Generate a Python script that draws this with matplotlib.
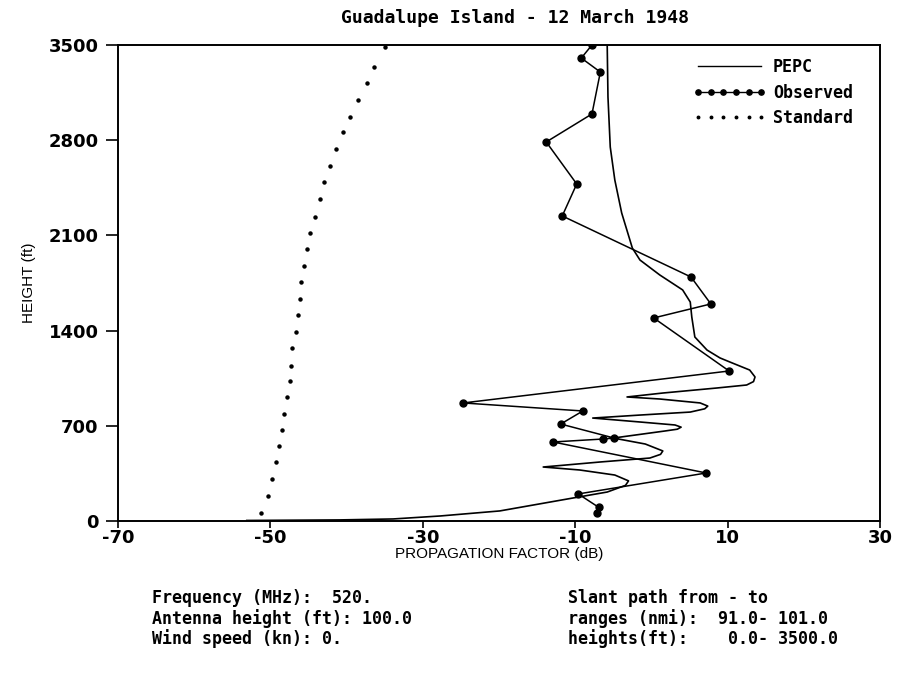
import numpy as np
import matplotlib
matplotlib.use("Agg")
from matplotlib import pyplot as plt
from matplotlib.lines import Line2D

# PEPC curve (dB, ft)
pepc_db = [-5.8, -5.7, -5.4, -4.8, -3.9, -2.5, -1.5, 1.1, 4.1, 5.1, 5.3, 5.7, 7.3, 9.0,
           10.3, 12.9, 13.6, 13.4, 12.5, 8.6, 1.5, -3.2, 1.1, 6.4, 7.4, 7.0, 5.1, -1.5, -7.7,
           -1.5, 3.1, 3.9, 3.4, 1.8, -5.0, -0.8, 1.5, 1.2, -0.2, -6.7, -14.2, -9.4, -4.8,
           -3.0, -3.4, -5.8, -10.3, -19.9, -27.7, -33.9, -40.9, -53.1]
pepc_ft = [3500, 3118, 2750, 2507, 2265, 2007, 1919, 1809, 1699, 1610, 1500, 1353, 1257, 1199,
           1169, 1110, 1059, 1025, 1000, 978, 941, 912, 897, 868, 845, 825, 801, 779, 757,
           728, 706, 690, 675, 662, 610, 566, 515, 490, 463, 434, 397, 375, 338,
           295, 262, 213, 169, 74, 37, 15, 8, 4]

# observed points
obs_db = [-7.8, -9.2, -6.7, -7.8, -13.8, -9.8, -11.7, 5.2, 7.8, 0.3, 10.2, -24.7, -9.0,
          -11.9, -4.9, -6.3, -12.9, 7.2, -9.6, -6.9, -7.2]
obs_ft = [3500, 3404, 3301, 2993, 2787, 2478, 2243, 1794, 1596, 1493, 1103, 868, 809,
          713, 610, 603, 581, 353, 199, 100, 60]

# standard atmosphere curve
std_db = [-35.0, -36.4, -37.3, -38.5, -39.6, -40.5, -41.4, -42.2, -43.0, -43.5, -44.1,
          -44.8, -45.2, -45.6, -46.0, -46.1, -46.4, -46.6, -47.2, -47.3, -47.4, -47.8,
          -48.2, -48.5, -48.9, -49.3, -49.8, -50.3, -51.2]
std_ft = [3485, 3338, 3221, 3096, 2971, 2860, 2735, 2610, 2493, 2368, 2235, 2118, 2000,
          1875, 1757, 1632, 1515, 1390, 1272, 1140, 1029, 912, 787, 669, 551, 434, 309,
          184, 59]

xticks = [-70, -50, -30, -10, 10, 30]
yticks = [0, 700, 1400, 2100, 2800, 3500]

left_info = ["Frequency (MHz):  520.", "Antenna height (ft): 100.0", "Wind speed (kn): 0."]
right_info = ["Slant path from - to", "ranges (nmi):  91.0- 101.0", "heights(ft):    0.0- 3500.0"]

dos = "DejaVu Sans Mono"

fig = plt.figure(figsize=(8.99, 6.8), dpi=100)
ax = fig.add_axes([118 / 899, 159 / 680, 762 / 899, 476 / 680])

ax.plot(pepc_db, pepc_ft, color="black", lw=1.2, label="PEPC")
ax.plot(obs_db, obs_ft, color="black", lw=1.1, marker="o", ms=5, label="Observed")
ax.plot(std_db, std_ft, color="black", ls="none", marker="o", ms=2.2, label="Standard")

ax.set_xlim(-70, 30)
ax.set_ylim(0, 3500)
ax.set_xticks(xticks)
ax.set_yticks(yticks)
ax.set_xticklabels([str(v) for v in xticks], fontfamily="DejaVu Sans", fontweight="bold", fontsize=13)
ax.set_yticklabels([str(v) for v in yticks], fontfamily="DejaVu Sans", fontweight="bold", fontsize=13)
ax.tick_params(axis="y", direction="out", length=9, width=1.2, pad=5)
ax.tick_params(axis="x", direction="out", length=5, width=1.2, pad=1)
for s in ax.spines.values():
    s.set_linewidth(1.4)

ax.set_xlabel("PROPAGATION FACTOR (dB)", fontfamily="Liberation Sans", fontsize=11, labelpad=0)
ax.set_ylabel("HEIGHT (ft)", fontfamily="Liberation Sans", fontsize=11, labelpad=9)

fig.text(515 / 899, 1 - 18 / 680, "Guadalupe Island - 12 March 1948", ha="center", va="center",
         fontfamily=dos, fontweight="bold", fontsize=13)

handles = [Line2D([], [], color="black", lw=1.0),
           Line2D([], [], color="black", lw=1.0, marker="o", ms=3.8),
           Line2D([], [], color="black", ls="none", marker="o", ms=1.8)]
leg = ax.legend(handles, ["PEPC", "Observed", "Standard"], loc="upper left",
                bbox_to_anchor=((693 - 118) / 762, (521 - 58) / 476), frameon=False,
                numpoints=6, handlelength=4.4, handletextpad=0.4, labelspacing=0.45,
                borderpad=0, borderaxespad=0,
                prop={"family": dos, "weight": "bold", "size": 12})

for i, (a, b) in enumerate(zip(left_info, right_info)):
    y = 1 - (598 + i * 20.5) / 680
    fig.text(152 / 899, y, a, ha="left", va="center", fontfamily=dos, fontweight="bold", fontsize=12)
    fig.text(568 / 899, y, b, ha="left", va="center", fontfamily=dos, fontweight="bold", fontsize=12)

fig.savefig("out.png", dpi=100)
